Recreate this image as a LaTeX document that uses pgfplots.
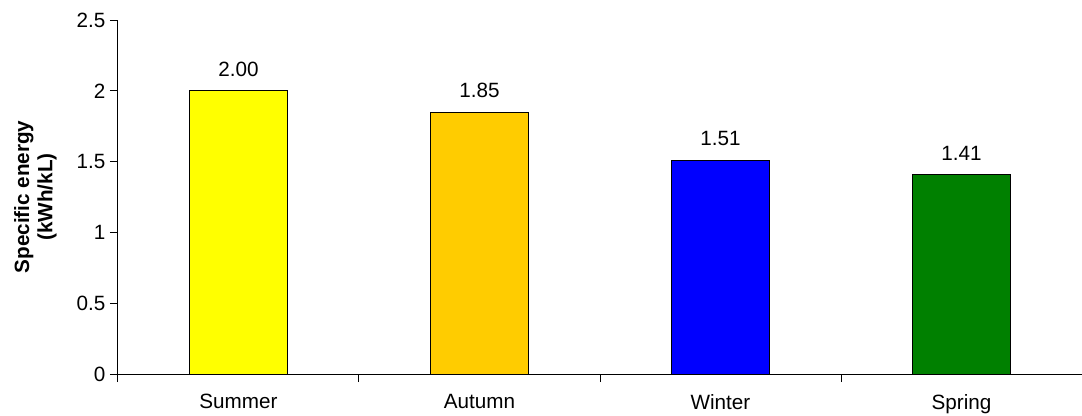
\documentclass[border=0pt]{standalone}
\usepackage{fontspec}
\setmainfont{Liberation Sans}
\usepackage{pgfplots}
\pgfplotsset{compat=1.18}
\definecolor{cSummer}{HTML}{FFFF00}
\definecolor{cAutumn}{HTML}{FFCC00}
\definecolor{cWinter}{HTML}{0000FF}
\definecolor{cSpring}{HTML}{008000}
\begin{document}
\begin{tikzpicture}
\begin{axis}[
  scale only axis,
  width=723pt, height=265.5pt,
  xmin=-0.5, xmax=3.5,
  ymin=0, ymax=2.5,
  axis x line*=bottom, axis y line*=left,
  x axis line style={-, line width=0.75pt},
  y axis line style={-, line width=0.75pt},
  xtick={0,1,2,3},
  xticklabels={Summer,Autumn,Winter,Spring},
  minor xtick={-0.5,0.5,1.5,2.5,3.5},
  ytick={0,0.5,1,1.5,2,2.5},
  yticklabels={0,0.5,1,1.5,2,2.5},
  tick align=outside,
  major tick length=6pt,
  minor tick length=6pt,
  x tick style={draw=none},
  minor x tick style={draw=black, line width=0.75pt},
  y tick style={draw=black, line width=0.75pt},
  every tick label/.append style={font=\fontsize{15.5}{18}\selectfont},
  xticklabel style={yshift=-5.5pt},
  ylabel={\textbf{Specific energy}\\\textbf{(kWh/kL)}},
  ylabel style={align=center, font=\fontsize{15.5}{17.5}\selectfont, xshift=0pt, yshift=8pt},
  ybar, bar width=73.5pt, bar shift=0pt,
  nodes near coords,
  nodes near coords style={font=\fontsize{15.5}{18}\selectfont, yshift=7pt,
    /pgf/number format/.cd, fixed, fixed zerofill, precision=2, assume math mode=true},
  clip=false,
]
\addplot[fill=cSummer, draw=black, line width=0.75pt] coordinates {(0,2.00)};
\addplot[fill=cAutumn, draw=black, line width=0.75pt] coordinates {(1,1.85)};
\addplot[fill=cWinter, draw=black, line width=0.75pt] coordinates {(2,1.51)};
\addplot[fill=cSpring, draw=black, line width=0.75pt] coordinates {(3,1.41)};
\end{axis}
\pgfresetboundingbox
\path ([shift={(-88.5pt,-30.75pt)}]current axis.south west) rectangle ([shift={(0pt,15pt)}]current axis.north east);
\end{tikzpicture}
\end{document}
